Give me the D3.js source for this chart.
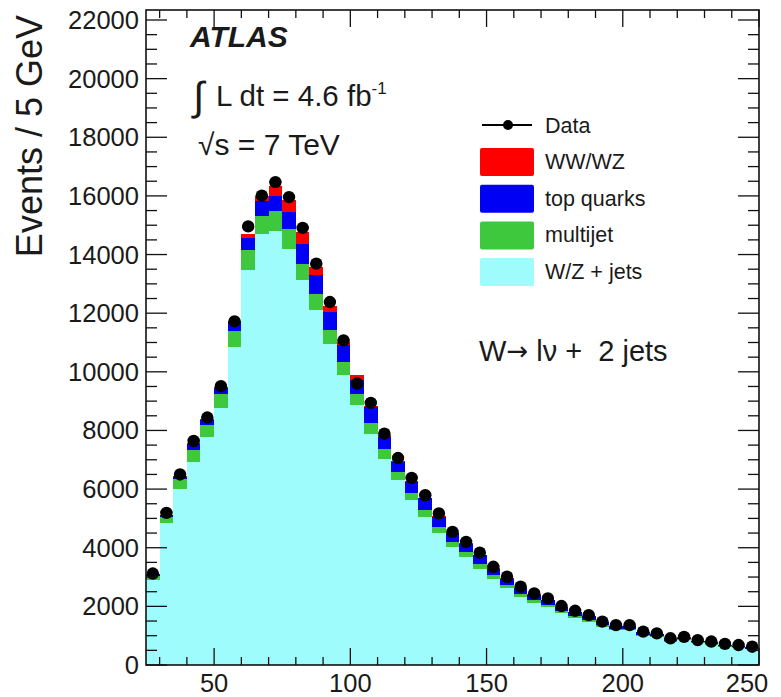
<!DOCTYPE html>
<html><head><meta charset="utf-8">
<script src="https://cdn.jsdelivr.net/npm/d3@7"></script>
<style>
body{margin:0;background:#fff}
svg{display:block}
text{font-family:"Liberation Sans",Arial,Helvetica,sans-serif;fill:#1a1a1a;white-space:pre}
</style>
</head><body>
<svg id="c" width="781" height="697"></svg>
<script>
// ---- data (Events / 5 GeV) ----
const binLow = [25,30,35,40,45,50,55,60,65,70,75,80,85,90,95,100,105,110,115,120,125,130,135,140,145,150,155,160,165,170,175,180,185,190,195,200,205,210,215,220,225,230,235,240,245];
const binWidth = 5;
const wzJets    = [2900,4830,6020,6930,7780,8750,10850,13460,14710,14820,14200,13120,12100,10960,9880,8860,7890,7040,6300,5620,5050,4490,4030,3690,3290,2950,2620,2330,2130,1980,1760,1610,1480,1300,1190,1180,990,940,790,840,740,690,620,590,540];
const multijet  = [150,220,340,420,400,510,550,680,620,680,680,570,570,450,450,400,350,340,280,230,230,220,170,170,170,110,100,90,80,75,70,60,55,50,45,45,40,35,30,30,28,25,25,22,20];
const topQuarks = [40,50,60,200,170,200,290,430,510,510,570,680,620,620,570,450,560,400,340,400,400,340,290,280,280,230,230,200,180,160,150,130,120,105,95,90,80,75,65,65,60,55,50,48,45];
const diboson   = [10,15,20,30,25,30,50,140,140,340,400,400,280,230,100,170,50,50,40,35,30,30,25,25,25,20,15,15,15,12,10,10,10,8,8,8,7,6,5,5,5,5,4,4,4];
const dataCounts= [3120,5190,6500,7640,8440,9510,11720,14960,16010,16470,15960,14910,13690,12380,11070,9600,8940,7890,7060,6380,5790,5170,4540,4200,3830,3350,3010,2670,2440,2270,2010,1850,1700,1480,1360,1360,1140,1080,910,960,850,800,720,680,625];

const seriesKeys   = ["wzJets","multijet","topQuarks","diboson"];
const seriesLabels = {wzJets:"W/Z + jets", multijet:"multijet", topQuarks:"top quarks", diboson:"WW/WZ"};
const seriesColors = {wzJets:"#9ffcfc", multijet:"#3ec83e", topQuarks:"#0000f5", diboson:"#ff0000"};
const legendOrder  = ["diboson","topQuarks","multijet","wzJets"];

const xTickLabels = [50,100,150,200,250];
const yTickLabels = [0,2000,4000,6000,8000,10000,12000,14000,16000,18000,20000,22000];

// ---- build ----
const rows = binLow.map((lo,i)=>({lo, hi: lo+binWidth, wzJets:wzJets[i], multijet:multijet[i], topQuarks:topQuarks[i], diboson:diboson[i], data:dataCounts[i]}));

const svg = d3.select("#c");
const L=146, R=759, T=10, B=665;
const x = d3.scaleLinear().domain([25,250]).range([L,R]);
const y = d3.scaleLinear().domain([0,22341]).range([B,T]);

const stack = d3.stack().keys(seriesKeys)(rows);
const g = svg.append("g");
stack.forEach(layer=>{
  g.append("g").attr("fill", seriesColors[layer.key]).attr("shape-rendering","crispEdges")
   .selectAll("rect").data(layer).join("rect")
   .attr("x", d=>x(d.data.lo)).attr("width", d=>x(d.data.hi)-x(d.data.lo))
   .attr("y", d=>y(d[1])).attr("height", d=>y(d[0])-y(d[1]));
});

// data points
const dp = svg.append("g");
dp.selectAll("line.h").data(rows).join("line").attr("class","h")
  .attr("x1",d=>x(d.lo)+1).attr("x2",d=>x(d.hi)-1)
  .attr("y1",d=>y(d.data)).attr("y2",d=>y(d.data))
  .attr("stroke","#000").attr("stroke-width",2.2);
dp.selectAll("line.v").data(rows).join("line").attr("class","v")
  .attr("x1",d=>x(d.lo+binWidth/2)).attr("x2",d=>x(d.lo+binWidth/2))
  .attr("y1",d=>y(d.data+Math.sqrt(d.data))).attr("y2",d=>y(d.data-Math.sqrt(d.data)))
  .attr("stroke","#000").attr("stroke-width",2);
dp.selectAll("circle").data(rows).join("circle")
  .attr("cx",d=>x(d.lo+binWidth/2)).attr("cy",d=>y(d.data)).attr("r",6.2).attr("fill","#000");

// axes (ROOT style: ticks inside, mirrored)
const ax = svg.append("g").attr("stroke","#111").attr("stroke-width",1.3);
const xMinor = d3.range(30,251,10);
const xMajor = xTickLabels;
const yMinor = d3.range(0,22001,500);
const yMajor = yTickLabels;
xMinor.forEach(v=>{
  const big = xMajor.includes(v), len = big?17:8;
  ax.append("line").attr("x1",x(v)).attr("x2",x(v)).attr("y1",B).attr("y2",B-len);
  ax.append("line").attr("x1",x(v)).attr("x2",x(v)).attr("y1",T).attr("y2",T+len);
});
yMinor.forEach(v=>{
  const big = yMajor.includes(v), len = big?21:11;
  ax.append("line").attr("x1",L).attr("x2",L+len).attr("y1",y(v)).attr("y2",y(v));
  ax.append("line").attr("x1",R).attr("x2",R-len).attr("y1",y(v)).attr("y2",y(v));
});
svg.append("rect").attr("x",L).attr("y",T).attr("width",R-L).attr("height",B-T)
  .attr("fill","none").attr("stroke","#111").attr("stroke-width",1.6);

// tick labels
svg.append("g").selectAll("text").data(xTickLabels).join("text")
  .attr("x",d=>d===250? x(d)-12 : x(d)).attr("y",692).attr("text-anchor","middle")
  .attr("font-size",25.5).text(d=>d);
svg.append("g").selectAll("text").data(yTickLabels).join("text")
  .attr("x",139).attr("y",d=>y(d)+9).attr("text-anchor","end")
  .attr("font-size",25.5).text(d=>d);

// axis title
svg.append("text").attr("transform","translate(42,15) rotate(-90)")
  .attr("text-anchor","end").attr("font-size",36).text("Events / 5 GeV");

// ATLAS labels
svg.append("text").attr("x",190).attr("y",47).attr("font-size",30)
  .attr("font-weight","bold").attr("font-style","italic").attr("fill","#000").text("ATLAS");
svg.append("text").attr("x",193).attr("y",110).attr("font-size",40).text("\u222B");
const lum = svg.append("text").attr("x",216).attr("y",106).attr("font-size",29.5);
lum.append("tspan").text("L dt = 4.6 fb");
lum.append("tspan").attr("dy",-12).attr("font-size",17).text("-1");
svg.append("text").attr("x",198).attr("y",155).attr("font-size",30).text("\u221As = 7 TeV");

const chan = svg.append("text").attr("x",479).attr("y",361).attr("font-size",29);
chan.append("tspan").text("W");
chan.append("tspan").attr("font-family","DejaVu Sans").attr("font-size",26).attr("dy",-1).text("\u2192");
chan.append("tspan").attr("dy",1).text(" l\u03BD +  2 jets");

// legend
const lg = svg.append("g");
lg.append("line").attr("x1",482).attr("x2",532).attr("y1",125).attr("y2",125).attr("stroke","#000").attr("stroke-width",2);
lg.append("circle").attr("cx",508).attr("cy",125).attr("r",5).attr("fill","#000");
lg.append("text").attr("x",545).attr("y",133).attr("font-size",21.5).text("Data");
legendOrder.forEach((k,i)=>{
  const yy = 148 + i*36.7;
  lg.append("rect").attr("x",480).attr("y",yy).attr("width",54).attr("height",28).attr("rx",2)
    .attr("fill",seriesColors[k]);
  lg.append("text").attr("x",545).attr("y",yy+21).attr("font-size",21.5).text(seriesLabels[k]);
});
</script>
</body></html>
